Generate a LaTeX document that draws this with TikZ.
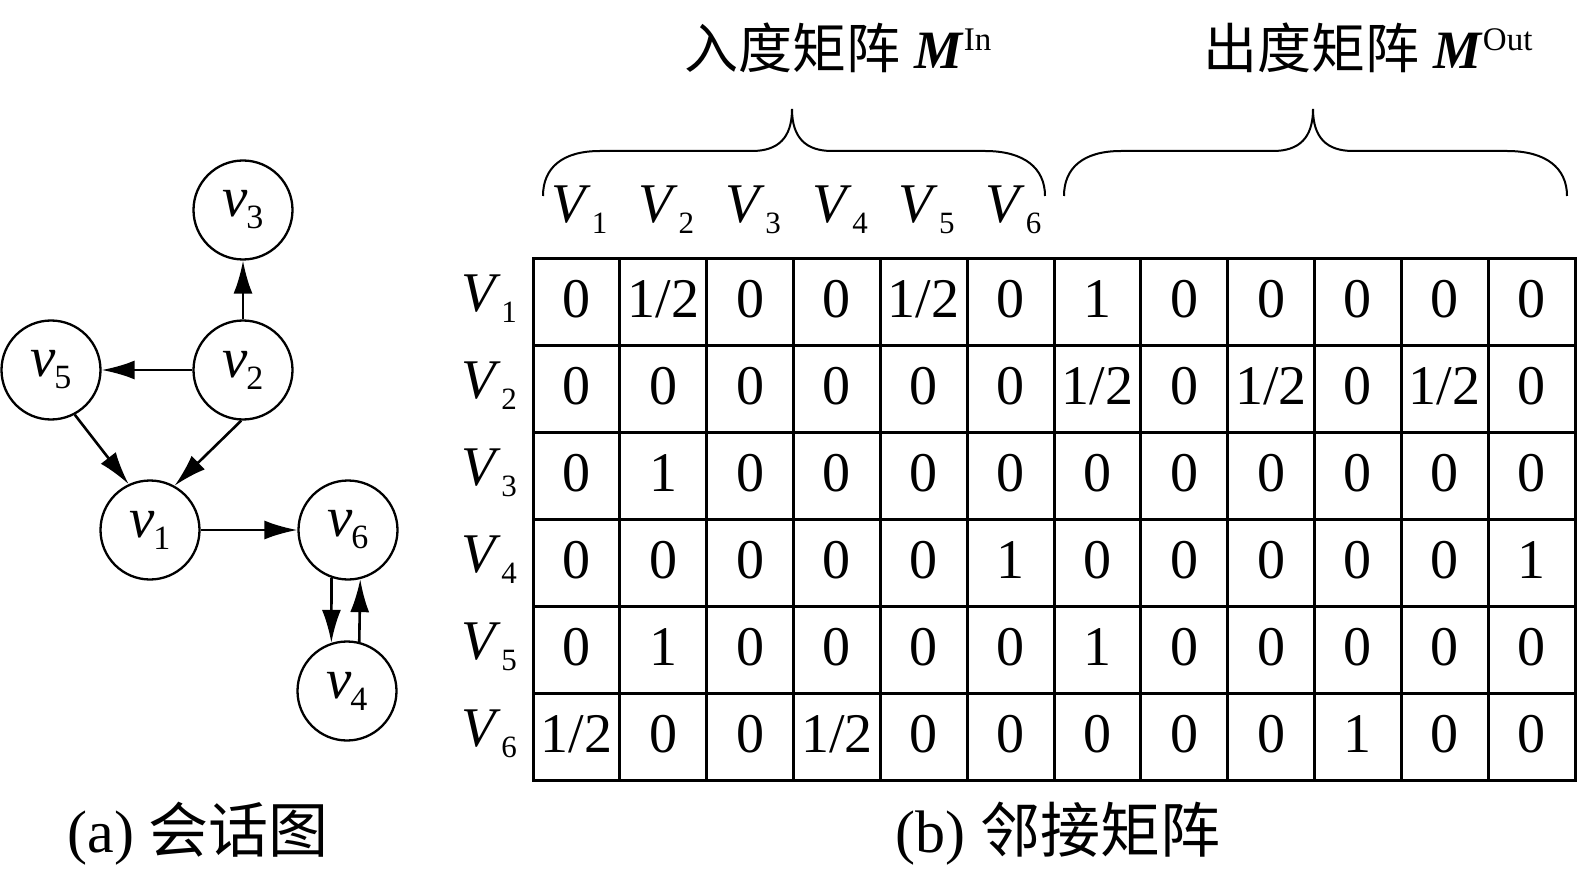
\documentclass[tikz,border=0pt]{standalone}
\usepackage{fontspec}
\setmainfont{Liberation Serif}
\newfontfamily\cjk{Noto Sans CJK SC}
\usetikzlibrary{arrows.meta}
\newcommand\gvl[1]{\textit{v}\kern-0.8pt\raisebox{-6pt}{\fontsize{17}{17}\selectfont #1}}
\newcommand\tvl[1]{\textit{V}\kern0.3pt\raisebox{-5.5pt}{\fontsize{15.5}{15.5}\selectfont #1}}
\begin{document}
\begin{tikzpicture}[x=0.5pt,y=-0.5pt,
  vnode/.style={circle,draw,line width=1.15pt,minimum size=49.5pt,inner sep=0pt,
    font=\fontsize{28.5}{28.5}\selectfont},
  arr/.style={line width=1.3pt,-{Latex[length=16.5pt,width=9.5pt]}},
  cell/.style={anchor=base,inner sep=0pt,font=\fontsize{28}{28}\selectfont},
  lab/.style={anchor=base,inner sep=0pt,font=\fontsize{28}{28}\selectfont},
  title/.style={anchor=base west,inner sep=0pt,font=\fontsize{27}{27}\selectfont},
  caption/.style={anchor=base west,inner sep=0pt,font=\fontsize{30}{30}\selectfont},
  grid/.style={line width=1.5pt},
  brace/.style={line width=1pt}]
\useasboundingbox (0,0) rectangle (1578,871);

% graph
\node[vnode] (v3) at (243,210) {\gvl{3}};
\node[vnode] (v2) at (243,370) {\gvl{2}};
\node[vnode] (v5) at (51,370) {\gvl{5}};
\node[vnode] (v1) at (150,530) {\gvl{1}};
\node[vnode] (v6) at (348,530) {\gvl{6}};
\node[vnode] (v4) at (347,691) {\gvl{4}};
\draw[arr] (v2) -- (v3);
\draw[arr] (v2) -- (v5);
\draw[arr] (v5.-62) -- (v1.115);
\draw[arr] (v2.-92) -- (v1.61);
\draw[arr] (v1) -- (v6);
\draw[arr] (v6.-109) -- (v4.108);
\draw[arr] (v4.76) -- (v6.-76);

% table grid
\draw[grid] (533,259) rectangle (1575,780.5);
\foreach \j in {1,...,11} \draw[grid] ({533+\j*86.833},259) -- ({533+\j*86.833},780.5);
\foreach \i in {1,...,5} \draw[grid] (533,{259+\i*86.92}) -- (1575,{259+\i*86.92});

% cells
\foreach \row [count=\i] in {
  {0,1/2,0,0,1/2,0,1,0,0,0,0,0},
  {0,0,0,0,0,0,1/2,0,1/2,0,1/2,0},
  {0,1,0,0,0,0,0,0,0,0,0,0},
  {0,0,0,0,0,1,0,0,0,0,0,1},
  {0,1,0,0,0,0,1,0,0,0,0,0},
  {1/2,0,0,1/2,0,0,0,0,0,1,0,0}} {
  \foreach \val [count=\j] in \row {
    \node[cell] (c\i-\j) at ({533+(\j-0.5)*86.833},{259+(\i-1)*86.92+59}) {\val};
  }
  \node[lab] (r\i) at (489,{259+(\i-1)*86.92+53}) {\tvl{\i}};
}
% column headers
\foreach \j in {1,...,6}
  \node[lab] (h\j) at ({533+(\j-0.5)*86.833+3},223) {\tvl{\j}};

% braces
\draw[brace] (543,196) .. controls (543,168) and (562,151) .. (600,151) -- (752,151)
  .. controls (778,151) and (792,138) .. (792,109)
  .. controls (792,138) and (806,151) .. (832,151) -- (985,151)
  .. controls (1024,151) and (1045,168) .. (1045,196);
\draw[brace] (1064,196) .. controls (1064,168) and (1083,151) .. (1121,151) -- (1273,151)
  .. controls (1299,151) and (1313,138) .. (1313,109)
  .. controls (1313,138) and (1327,151) .. (1353,151) -- (1507,151)
  .. controls (1546,151) and (1567,168) .. (1567,196);

% titles
\node[title] (tin) at (684,69) {{\cjk 入度矩阵}\hspace{7pt}\textbf{\textit{M}}\raisebox{9pt}{\fontsize{16.5}{16.5}\selectfont In}};
\node[title] (tout) at (1203,69) {{\cjk 出度矩阵}\hspace{7pt}\textbf{\textit{M}}\raisebox{9pt}{\fontsize{16.5}{16.5}\selectfont Out}};

% captions
\node[caption] (capa) at (67,852) {(a) {\cjk 会话图}};
\node[caption] (capb) at (895,852) {(b) {\cjk 邻接矩阵}};
\end{tikzpicture}
\end{document}
